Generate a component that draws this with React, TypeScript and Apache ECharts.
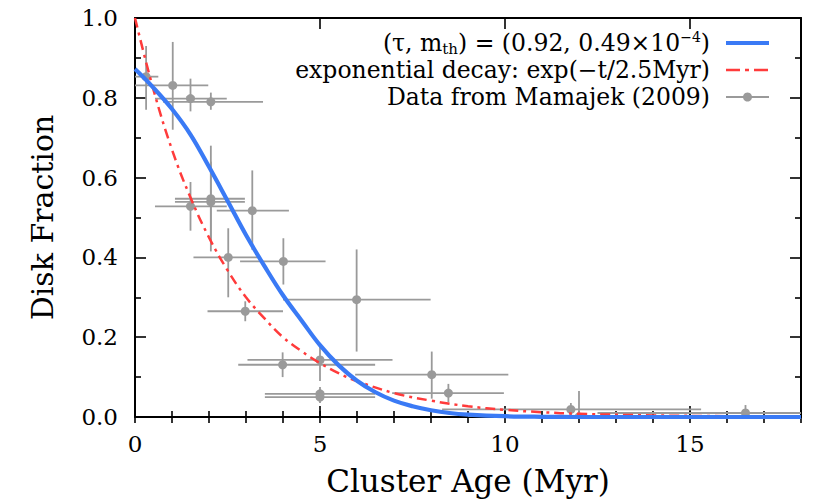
import React, { useEffect, useRef } from "react";
import * as echarts from "echarts";

// Mamajek (2009) cluster data: age (Myr), disk fraction, and error ranges
const ageX = [0.3, 1.02, 1.5, 2.05, 1.5, 2.05, 2.05, 3.17, 2.52, 4.01, 5.99, 2.98, 3.99, 5.0, 5.0, 5.0, 8.02, 8.47, 11.78, 12.0, 16.5];
const ageLo = [0.0, 0.0, 0.54, 0.76, 0.54, 1.08, 1.08, 2.21, 1.58, 2.84, 4.0, 1.96, 2.79, 3.04, 3.51, 3.51, 5.95, 6.95, 8.3, 9.0, 12.5];
const ageHi = [0.63, 1.98, 2.48, 3.46, 2.48, 2.97, 2.97, 4.16, 3.33, 5.15, 7.99, 4.0, 6.49, 6.96, 6.49, 6.49, 10.09, 9.97, 15.3, 15.0, 20.5];
const fracY = [0.853, 0.831, 0.798, 0.79, 0.528, 0.547, 0.539, 0.517, 0.4, 0.39, 0.294, 0.265, 0.131, 0.143, 0.058, 0.05, 0.106, 0.06, 0.019, 0.0, 0.01];
const fracLo = [0.77, 0.72, 0.766, 0.77, 0.467, 0.415, 0.44, 0.419, 0.3, 0.332, 0.164, 0.24, 0.1, 0.09, 0.042, 0.035, 0.046, 0.037, 0.005, -0.01, 0.0];
const fracHi = [0.93, 0.94, 0.848, 0.813, 0.589, 0.68, 0.64, 0.618, 0.473, 0.448, 0.42, 0.29, 0.162, 0.18, 0.075, 0.07, 0.164, 0.083, 0.035, 0.065, 0.03];

// Model curve (tau, m_th) = (0.92, 0.49e-4)
const modelX = [0, 0.5, 1, 1.5, 2, 2.5, 3, 3.5, 4, 4.5, 5, 5.5, 6, 6.5, 7, 7.5, 8, 8.5, 9, 10, 11, 12, 14, 16, 18];
const modelY = [0.872, 0.825, 0.772, 0.708, 0.627, 0.542, 0.456, 0.378, 0.305, 0.242, 0.18, 0.13, 0.091, 0.062, 0.041, 0.027, 0.017, 0.01, 0.006, 0.002, 0.0005, 0, 0, 0, 0];

// Exponential decay exp(-t/2.5Myr)
const expX = [0, 0.5, 1, 1.5, 2, 2.5, 3, 3.5, 4, 4.5, 5, 5.5, 6, 7, 8, 9, 10, 11, 12, 14, 16, 18];
const expY = [1.0, 0.82, 0.67, 0.55, 0.45, 0.368, 0.3, 0.247, 0.2, 0.165, 0.135, 0.11, 0.09, 0.06, 0.041, 0.027, 0.018, 0.012, 0.008, 0.004, 0.002, 0.001];

const xLabels = ["0", "5", "10", "15"];
const yLabels = ["0.0", "0.2", "0.4", "0.6", "0.8", "1.0"];

const legendTexts = [
  "(τ, m{sub|th}) = (0.92, 0.49×10{sup|−4})",
  "exponential decay: exp(−t/2.5Myr)",
  "Data from Mamajek (2009)",
];

const FONT = "DejaVu Serif";
const BLUE = "#3a7af5";
const RED = "#ff3b3b";
const GRAY = "#9a9a9a";

export default function App() {
  const ref = useRef<HTMLDivElement>(null);
  useEffect(() => {
    if (!ref.current) return;
    const chart = echarts.init(ref.current, undefined, { renderer: "svg" });

    const grid = { left: 135, right: 13, top: 18, bottom: 81 };
    const xCommon = { type: "value", min: 0, max: 18, splitLine: { show: false } };
    const tickStyle = { color: "#000", width: 1.6 };

    const xAxis = [
      {
        ...xCommon,
        position: "bottom",
        interval: 5,
        axisLine: { show: true, onZero: false, lineStyle: { color: "#000", width: 2 } },
        axisTick: { show: true, inside: true, length: 11, lineStyle: tickStyle },
        axisLabel: {
          show: true,
          margin: 15,
          color: "#000",
          fontFamily: FONT,
          fontSize: 23,
          formatter: (v: number) => {
            const i = Math.round(v / 5);
            return Math.abs(v - i * 5) < 1e-6 && i < xLabels.length ? xLabels[i] : "";
          },
        },
        name: "Cluster Age (Myr)",
        nameLocation: "middle",
        nameGap: 48,
        nameTextStyle: { color: "#000", fontFamily: FONT, fontSize: 31 },
      },
      {
        ...xCommon,
        position: "bottom",
        interval: 1,
        axisLine: { show: false },
        axisTick: { show: true, inside: true, length: 6, lineStyle: tickStyle },
        axisLabel: { show: false },
      },
      {
        ...xCommon,
        position: "top",
        interval: 5,
        axisLine: { show: true, onZero: false, lineStyle: { color: "#000", width: 2 } },
        axisTick: { show: true, inside: true, length: 11, lineStyle: tickStyle },
        axisLabel: { show: false },
      },
      {
        ...xCommon,
        position: "top",
        interval: 1,
        axisLine: { show: false },
        axisTick: { show: true, inside: true, length: 6, lineStyle: tickStyle },
        axisLabel: { show: false },
      },
    ];

    const yCommon = {
      type: "value",
      min: 0,
      max: 1,
      interval: 0.2,
      splitLine: { show: false },
      axisLine: { show: true, onZero: false, lineStyle: { color: "#000", width: 2 } },
      axisTick: { show: true, inside: true, length: 11, lineStyle: tickStyle },
      minorTick: { show: true, splitNumber: 2, length: 6, lineStyle: tickStyle },
    };
    const yAxis = [
      {
        ...yCommon,
        position: "left",
        axisLabel: {
          show: true,
          margin: 17,
          color: "#000",
          fontFamily: FONT,
          fontSize: 23,
          formatter: (v: number) => {
            const i = Math.round(v / 0.2);
            return yLabels[i] ?? "";
          },
        },
        name: "Disk Fraction",
        nameLocation: "middle",
        nameGap: 78,
        nameTextStyle: { color: "#000", fontFamily: FONT, fontSize: 30 },
      },
      { ...yCommon, position: "right", axisLabel: { show: false } },
    ];

    const errData = ageX.map((x, i) => [x, fracY[i], ageLo[i], ageHi[i], fracLo[i], fracHi[i]]);

    const legendX = 710;
    const legendY = [43, 70, 97];
    const richStyle = {
      sub: { fontFamily: FONT, fontSize: 15, fill: "#000", verticalAlign: "bottom", lineHeight: 26 },
      sup: { fontFamily: FONT, fontSize: 14, fill: "#000", verticalAlign: "top", lineHeight: 26, padding: [0, 0, 7, 0] },
    };

    const graphic: any[] = [];
    legendTexts.forEach((t, i) => {
      graphic.push({
        type: "text",
        x: legendX,
        y: legendY[i],
        z: 100,
        style: {
          text: t,
          fontFamily: FONT,
          fontSize: 23.5,
          fill: "#000",
          align: "right",
          verticalAlign: "middle",
          lineHeight: 26,
          rich: richStyle,
        },
      });
    });
    graphic.push({
      type: "line",
      z: 100,
      shape: { x1: 726, y1: legendY[0], x2: 769, y2: legendY[0] },
      style: { stroke: BLUE, lineWidth: 4 },
    });
    graphic.push({
      type: "line",
      z: 100,
      shape: { x1: 726, y1: legendY[1], x2: 769, y2: legendY[1] },
      style: { stroke: RED, lineWidth: 2.5, lineDash: [14, 5, 4, 5] },
    });
    graphic.push({
      type: "line",
      z: 100,
      shape: { x1: 726, y1: legendY[2], x2: 769, y2: legendY[2] },
      style: { stroke: GRAY, lineWidth: 1.8 },
    });
    graphic.push({
      type: "circle",
      z: 100,
      shape: { cx: 747.5, cy: legendY[2], r: 4.5 },
      style: { fill: GRAY },
    });

    chart.setOption({
      animation: false,
      backgroundColor: "#fff",
      grid,
      xAxis,
      yAxis,
      graphic,
      series: [
        {
          type: "custom",
          name: "Data from Mamajek (2009)",
          xAxisIndex: 0,
          yAxisIndex: 0,
          clip: true,
          z: 1,
          encode: { x: 0, y: 1 },
          data: errData,
          renderItem: (params: any, api: any) => {
            const x = api.value(0);
            const y = api.value(1);
            const c = api.coord([x, y]);
            const l = api.coord([api.value(2), y]);
            const r = api.coord([api.value(3), y]);
            const b = api.coord([x, api.value(4)]);
            const t = api.coord([x, api.value(5)]);
            const st = { stroke: GRAY, lineWidth: 1.8 };
            return {
              type: "group",
              children: [
                { type: "line", shape: { x1: l[0], y1: l[1], x2: r[0], y2: r[1] }, style: st },
                { type: "line", shape: { x1: b[0], y1: b[1], x2: t[0], y2: t[1] }, style: st },
                { type: "circle", shape: { cx: c[0], cy: c[1], r: 4.5 }, style: { fill: GRAY } },
              ],
            };
          },
        },
        {
          type: "line",
          name: "exponential decay",
          xAxisIndex: 0,
          yAxisIndex: 0,
          showSymbol: false,
          smooth: 0.4,
          z: 3,
          data: expX.map((x, i) => [x, expY[i]]),
          lineStyle: { color: RED, width: 2.5, type: [10, 5, 3, 5] },
        },
        {
          type: "line",
          name: "model",
          xAxisIndex: 0,
          yAxisIndex: 0,
          showSymbol: false,
          smooth: 0.4,
          z: 4,
          data: modelX.map((x, i) => [x, modelY[i]]),
          lineStyle: { color: BLUE, width: 4.2 },
        },
      ],
    });
    return () => chart.dispose();
  }, []);
  return <div ref={ref} style={{ position: "absolute", left: 0, top: 0, width: 814, height: 501 }} />;
}
